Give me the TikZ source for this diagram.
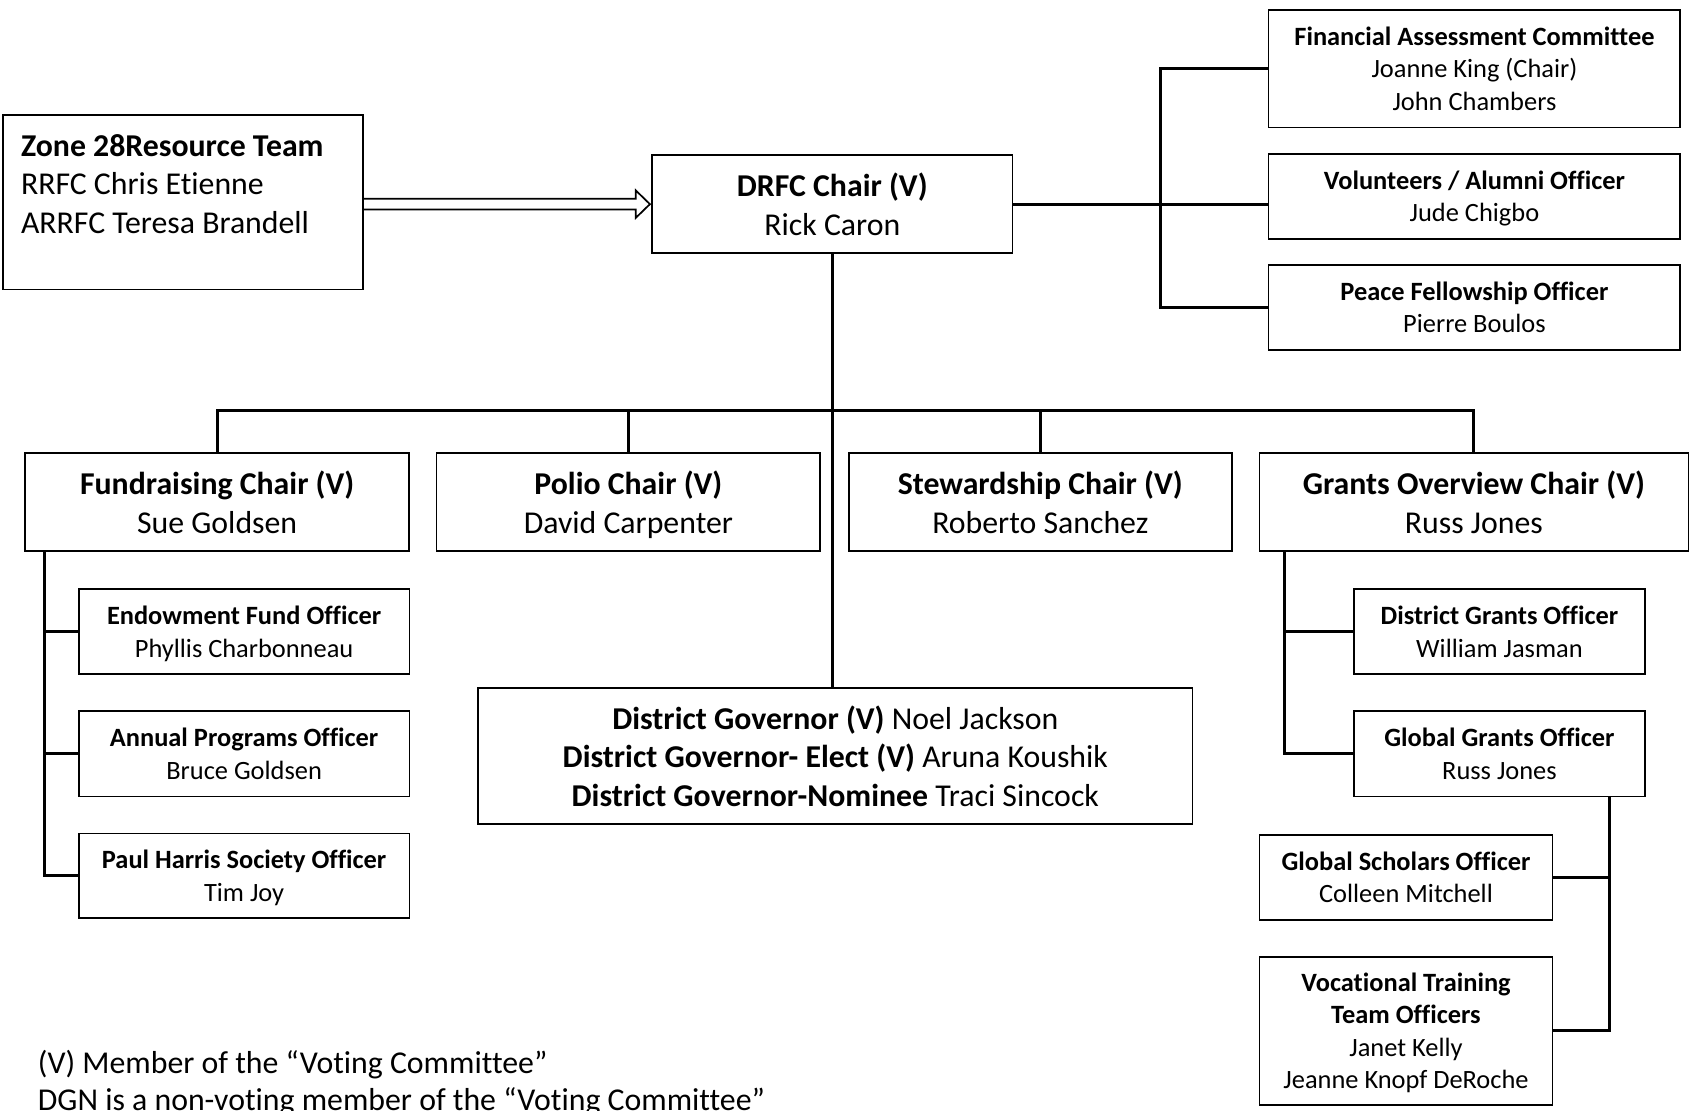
\documentclass[tikz,border=0pt]{standalone}
\usepackage{fontspec}
\setmainfont{Carlito}[Ligatures=CommonOff]
\usetikzlibrary{calc}
\newcommand\mainfs{\fontsize{29.5}{36}\selectfont}
\newcommand\smallfs{\fontsize{24.5}{30}\selectfont}
\newcommand\notefs{\fontsize{29.5}{34}\selectfont}
% uniform line boxes so that every box centres its lines the same way
\newcommand\mtx[1]{\rule[-2pt]{0pt}{26pt}\smash{#1}}
\newcommand\stx[1]{\rule[-2pt]{0pt}{21pt}\smash{#1}}
\begin{document}
\begin{tikzpicture}[x=1pt,y=-1pt,
  bigbox/.style={draw, line width=1.6pt, inner sep=0pt, align=center, font=\mainfs},
  smallbox/.style={draw, line width=1.6pt, inner sep=0pt, align=center, font=\smallfs},
  conn/.style={line width=2.7pt, line join=miter},
  arr/.style={line width=1.6pt, line join=miter}]
\fill[white] (0,0) rectangle (1568,1030);
\useasboundingbox (0,0) rectangle (1568,1030);

% top level
\node[bigbox, minimum width=334pt, minimum height=161.5pt, text width=300pt, align=flush left] (zone) at (169.5,187.75)
  {\mtx{\textbf{Zone 28Resource Team}}\\\mtx{RRFC Chris Etienne}\\\mtx{ARRFC Teresa Brandell}\\\mtx{}};
\node[bigbox, minimum width=334.4pt, minimum height=91.2pt] (drfc) at (772.2,189.4)
  {\mtx{\textbf{DRFC Chair (V)}}\\\mtx{Rick Caron}};

% right column
\node[smallbox, minimum width=382pt, minimum height=109pt] (fac) at (1368,63.7)
  {\stx{\textbf{Financial Assessment Committee}}\\\stx{Joanne King (Chair)}\\\stx{John Chambers}};
\node[smallbox, minimum width=382pt, minimum height=78.8pt] (vol) at (1368,182.3)
  {\stx{\textbf{Volunteers / Alumni Officer}}\\\stx{Jude Chigbo}};
\node[smallbox, minimum width=382pt, minimum height=78.8pt] (peace) at (1368,285)
  {\stx{\textbf{Peace Fellowship Officer}}\\\stx{Pierre Boulos}};

% second level
\node[bigbox, minimum width=356pt, minimum height=91pt] (fund) at (201.5,465.8)
  {\mtx{\textbf{Fundraising Chair (V)}}\\\mtx{Sue Goldsen}};
\node[bigbox, minimum width=356pt, minimum height=91pt] (polio) at (583,465.8)
  {\mtx{\textbf{Polio Chair (V)}}\\\mtx{David Carpenter}};
\node[bigbox, minimum width=355.6pt, minimum height=91pt] (stew) at (965.2,465.8)
  {\mtx{\textbf{Stewardship Chair (V)}}\\\mtx{Roberto Sanchez}};
\node[bigbox, minimum width=398pt, minimum height=91pt] (grants) at (1367.5,466)
  {\mtx{\textbf{Grants Overview Chair (V)}}\\\mtx{Russ Jones}};

% fundraising officers
\node[smallbox, minimum width=307pt, minimum height=78.8pt] (endow) at (226.5,586.1)
  {\stx{\textbf{Endowment Fund Officer}}\\\stx{Phyllis Charbonneau}};
\node[smallbox, minimum width=307pt, minimum height=79pt] (annual) at (226.5,699.5)
  {\stx{\textbf{Annual Programs Officer}}\\\stx{Bruce Goldsen}};
\node[smallbox, minimum width=307pt, minimum height=78.7pt] (paul) at (226.5,812.7)
  {\stx{\textbf{Paul Harris Society Officer}}\\\stx{Tim Joy}};

% district governors
\node[bigbox, minimum width=663pt, minimum height=125.7pt] (dg) at (775,701.5)
  {\mtx{\textbf{District Governor (V)} Noel Jackson}\\\mtx{\textbf{District Governor- Elect (V)} Aruna Koushik}\\\mtx{\textbf{District Governor-Nominee} Traci Sincock}};

% grants officers
\node[smallbox, minimum width=270.5pt, minimum height=78.8pt] (dgrants) at (1391.2,586.1)
  {\stx{\textbf{District Grants Officer}}\\\stx{William Jasman}};
\node[smallbox, minimum width=270.5pt, minimum height=79pt] (ggrants) at (1391.2,699.5)
  {\stx{\textbf{Global Grants Officer}}\\\stx{Russ Jones}};
\node[smallbox, minimum width=272pt, minimum height=78.7pt] (gscholars) at (1304.5,814.3)
  {\stx{\textbf{Global Scholars Officer}}\\\stx{Colleen Mitchell}};
\node[smallbox, minimum width=272pt, minimum height=137.8pt] (voc) at (1304.5,956.5)
  {\stx{\textbf{Vocational Training}}\\\stx{\textbf{Team Officers}}\\\stx{Janet Kelly}\\\stx{Jeanne Knopf DeRoche}};

% footnote
\node[anchor=west, align=flush left, font=\notefs, inner sep=0pt] (note) at (35,1005)
  {(V) Member of the “Voting Committee”\\DGN is a non-voting member of the “Voting Committee”};

% connector helpers
\coordinate (bar) at (0,381);
\coordinate (rb) at (1076.4,0);
\coordinate (lb) at (41,0);
\coordinate (gl) at (1191.5,0);
\coordinate (gr) at (1493,0);

\draw[conn] (drfc.south) -- (drfc.south |- dg.north);
\draw[conn] (fund.north) -- (fund.north |- bar) -- (grants.north |- bar) -- (grants.north);
\draw[conn] (polio.north) -- (polio.north |- bar);
\draw[conn] (stew.north) -- (stew.north |- bar);
\draw[conn] (drfc.east) -- (drfc.east -| vol.west);
\draw[conn] (fac.west) -- (fac.west -| rb) -- (peace.west -| rb) -- (peace.west);
\draw[conn] (lb |- fund.south) -- (lb |- paul.west) -- (paul.west);
\draw[conn] (lb |- endow.west) -- (endow.west);
\draw[conn] (lb |- annual.west) -- (annual.west);
\draw[conn] (gl |- grants.south) -- (gl |- ggrants.west) -- (ggrants.west);
\draw[conn] (gl |- dgrants.west) -- (dgrants.west);
\draw[conn] (gr |- ggrants.south) -- (gr |- voc.east) -- (voc.east);
\draw[conn] (gscholars.east) -- (gscholars.east -| gr);

% hollow block arrow from the resource team to the DRFC chair
\draw[arr] ($(zone.east |- drfc.west)+(0,-5)$) -- ($(drfc.west)+(-14.4,-5)$)
  -- ($(drfc.west)+(-14.4,-12.8)$) -- ($(drfc.west)+(-1.2,0)$)
  -- ($(drfc.west)+(-14.4,12.8)$) -- ($(drfc.west)+(-14.4,5)$)
  -- ($(zone.east |- drfc.west)+(0,5)$);
\end{tikzpicture}
\end{document}
